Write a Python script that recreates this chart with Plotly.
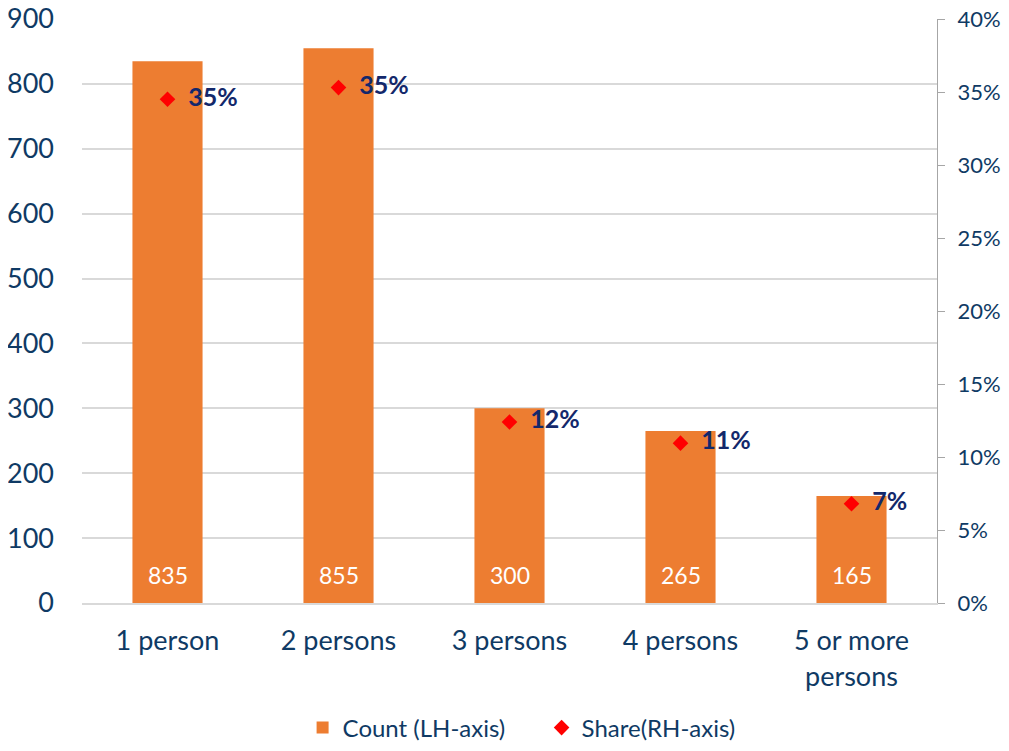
import plotly.graph_objects as go

categories = ["1 person", "2 persons", "3 persons", "4 persons", "5 or more<br>persons"]
counts = [835, 855, 300, 265, 165]
shares = [34.5, 35.3, 12.4, 10.95, 6.8]
share_labels = ["35%", "35%", "12%", "11%", "7%"]

navy = "#0f3a64"
font_family = "Lato, 'Open Sans', sans-serif"

fig = go.Figure()
fig.add_trace(
    go.Bar(
        x=categories,
        y=counts,
        name="Count (LH-axis)",
        marker={"color": "#ed7d31", "line": {"width": 0}},
        width=0.41,
        yaxis="y",
    )
)
fig.add_trace(
    go.Scatter(
        x=categories,
        y=shares,
        name="Share(RH-axis)",
        mode="markers+text",
        marker={"symbol": "diamond", "color": "#ff0000", "size": 12},
        text=["\u00a0\u00a0" + s for s in share_labels],
        textposition="middle right",
        textfont={"color": "#13286b", "size": 25, "family": font_family, "weight": "bold"},
        yaxis="y2",
    )
)

# count labels sit near the foot of each bar
for cat, value in zip(categories, counts):
    fig.add_annotation(
        x=cat,
        y=0,
        xref="x",
        yref="y",
        text=str(value),
        showarrow=False,
        yanchor="middle",
        yshift=28,
        font={"color": "white", "size": 23, "family": font_family},
    )

# the page body has an 8px margin, so the figure is shrunk to fit the window
fig.update_layout(
    width=993,
    height=735,
    paper_bgcolor="white",
    plot_bgcolor="white",
    margin={"l": 74, "r": 64, "t": 11, "b": 140, "autoexpand": False},
    font={"family": font_family, "color": navy, "size": 24},
    showlegend=True,
    legend={
        "orientation": "h",
        "x": 0.258,
        "xanchor": "left",
        "y": -0.214,
        "yanchor": "middle",
        "font": {"size": 24, "color": navy},
        "entrywidth": 194,
        "entrywidthmode": "pixels",
    },
    xaxis={
        "showline": True,
        "linecolor": "#d9d9d9",
        "linewidth": 2,
        "tickfont": {"size": 27, "color": navy},
        "ticks": "",
        "ticklabelstandoff": 13,
        "automargin": False,
    },
    yaxis={
        "range": [0, 900],
        "dtick": 100,
        "showgrid": True,
        "gridcolor": "#d9d9d9",
        "gridwidth": 2,
        "zeroline": False,
        "showline": False,
        "tickfont": {"size": 27, "color": navy},
        "ticklabelstandoff": 27,
        "ticklabeloverflow": "allow",
        "automargin": False,
    },
    yaxis2={
        "range": [0, 40],
        "dtick": 5,
        "overlaying": "y",
        "side": "right",
        "ticksuffix": "%",
        "showgrid": False,
        "zeroline": False,
        "showline": True,
        "linecolor": "#a6a6a6",
        "linewidth": 1,
        "ticks": "outside",
        "ticklen": 7,
        "tickcolor": "#a6a6a6",
        "tickfont": {"size": 22, "color": navy},
        "ticklabelstandoff": 8,
        "ticklabeloverflow": "allow",
        "automargin": False,
    },
)
fig.write_html("out.html")
